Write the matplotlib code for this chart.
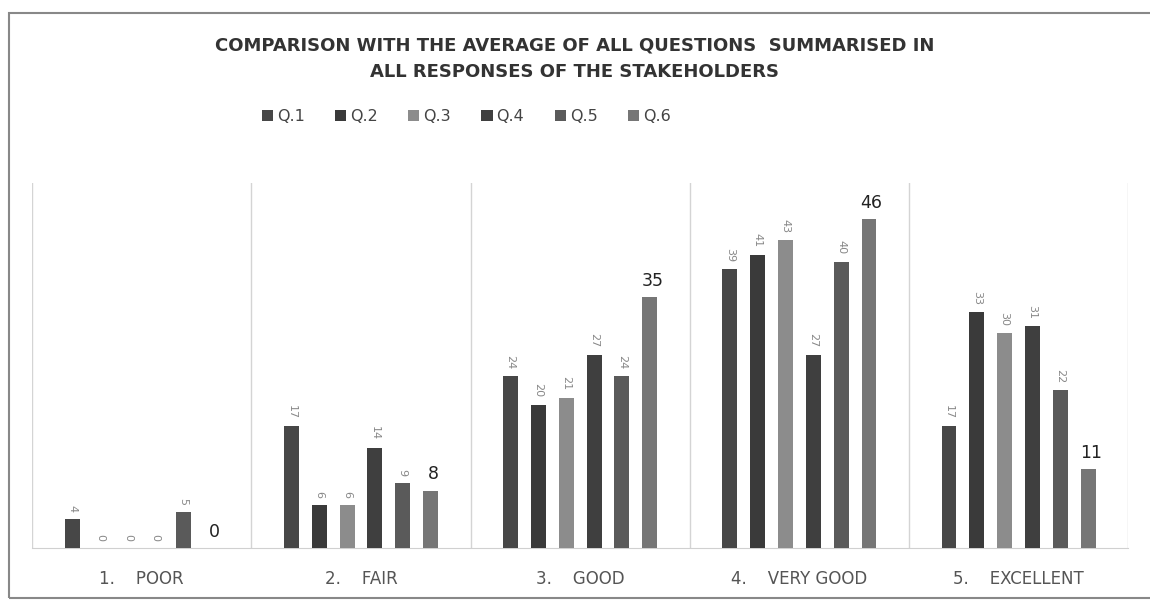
import numpy as np
import matplotlib.pyplot as plt
from matplotlib.patches import Rectangle

categories = ['1.    POOR', '2.    FAIR', '3.    GOOD', '4.    VERY GOOD', '5.    EXCELLENT']
series = ['Q.1', 'Q.2', 'Q.3', 'Q.4', 'Q.5', 'Q.6']
q1 = [4, 17, 24, 39, 17]
q2 = [0, 6, 20, 41, 33]
q3 = [0, 6, 21, 43, 30]
q4 = [0, 14, 27, 27, 31]
q5 = [5, 9, 24, 40, 22]
q6 = [0, 8, 35, 46, 11]
values = [q1, q2, q3, q4, q5, q6]
colors = ['#474747', '#3a3a3a', '#8c8c8c', '#3f3f3f', '#5a5a5a', '#767676']

fig = plt.figure(figsize=(11.5, 6.02), dpi=100)
ax = fig.add_axes([0.028, 0.09, 0.953, 0.606])

x = np.arange(len(categories))
step = 0.127
width = 0.068
for i, (name, vals) in enumerate(zip(series, values)):
    pos = x + (i - 2.5) * step
    ax.bar(pos, vals, width, color=colors[i], label=name, zorder=3)
    for p, v in zip(pos, vals):
        if i == 5:
            ax.text(p + 0.012, v + 1.0, str(v), ha='center', va='bottom',
                    fontsize=12.5, color='#222222')
        else:
            ax.text(p, v + 1.0, str(v), ha='center', va='bottom',
                    fontsize=8, color='#888888', rotation=270)

ax.set_xlim(-0.5, len(categories) - 0.5)
ax.set_ylim(0, 51)
ax.set_xticks(x)
ax.set_xticklabels(categories, fontsize=12, color='#555555')
ax.tick_params(axis='x', length=0, pad=16)
ax.set_yticks([])
ax.set_xticks(np.arange(-0.5, len(categories)), minor=True)
ax.tick_params(axis='x', which='minor', length=0)
ax.grid(axis='x', which='minor', color='#d4d4d4', linewidth=1)
for s in ['top', 'right', 'left']:
    ax.spines[s].set_visible(False)
ax.spines['bottom'].set_color('#d0d0d0')

fig.text(0.5, 0.925, 'COMPARISON WITH THE AVERAGE OF ALL QUESTIONS  SUMMARISED IN',
         ha='center', va='center', fontsize=13, fontweight='bold', color='#333333')
fig.text(0.5, 0.88, 'ALL RESPONSES OF THE STAKEHOLDERS',
         ha='center', va='center', fontsize=13, fontweight='bold', color='#333333')

fig.legend(loc='center left', bbox_to_anchor=(0.215, 0.806), ncol=6, frameon=False,
           fontsize=11.5, handlelength=0.7, handleheight=0.7, handletextpad=0.25,
           columnspacing=1.9, labelcolor='#444444')

fig.patches.append(Rectangle((0.008, 0.007), 1.1, 0.972, transform=fig.transFigure,
                             fill=False, edgecolor='#888888', linewidth=1.5))

fig.savefig('out.png', dpi=100)
